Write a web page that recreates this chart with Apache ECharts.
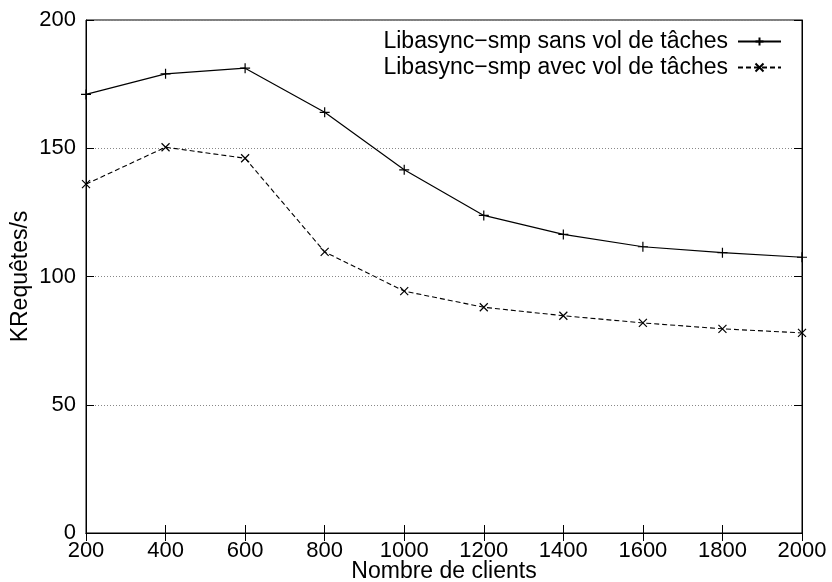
<!DOCTYPE html>
<html><head><meta charset="utf-8">
<script src="https://cdn.jsdelivr.net/npm/echarts@6/dist/echarts.min.js"></script>
<style>html,body{margin:0;padding:0;background:#fff}#c{width:832px;height:582px}</style>
</head><body><div id="c"></div>
<script>
const clients = [200, 400, 600, 800, 1000, 1200, 1400, 1600, 1800, 2000];
const sansVol = [171, 179, 181.2, 164, 141.6, 123.8, 116.4, 111.6, 109.3, 107.5];
const avecVol = [136, 150.4, 146.1, 109.6, 94.3, 88.0, 84.7, 81.9, 79.6, 78.0];
const seriesNames = ['Libasync\u2212smp sans vol de tâches', 'Libasync\u2212smp avec vol de tâches'];
const xTitle = 'Nombre de clients';
const yTitle = 'KRequêtes/s';

const font = 'Liberation Sans, Arial, Helvetica, sans-serif';
const chart = echarts.init(document.getElementById('c'));
const plus = 'path://M0,-5L0,5M-5,0L5,0';
const cross = 'path://M-5,-5L5,5M-5,5L5,-5';
const tickStyle = {show: true, inside: true, length: 8, lineStyle: {color: '#000', width: 1}};
chart.setOption({
  animation: false,
  backgroundColor: '#fff',
  grid: {left: 86, right: 30, top: 20, bottom: 49, show: true, borderColor: '#000', borderWidth: 1,
         containLabel: false, outerBoundsMode: 'none'},
  legend: {
    orient: 'vertical', right: 45, top: 25, align: 'right', itemGap: 3,
    itemWidth: 43, itemHeight: 10,
    textStyle: {fontFamily: font, fontSize: 23, color: '#000', padding: [0, 5, 0, 0]},
    data: seriesNames
  },
  xAxis: [{
    type: 'value', min: 200, max: 2000, interval: 200,
    name: xTitle, nameLocation: 'middle', nameGap: 27, nameMoveOverlap: false,
    nameTextStyle: {fontFamily: font, fontSize: 23, color: '#000'},
    axisLine: {show: true, lineStyle: {color: '#000'}},
    axisTick: tickStyle,
    axisLabel: {fontFamily: font, fontSize: 22, color: '#000', margin: 7, formatter: v => String(v)},
    splitLine: {show: false}
  }, {
    type: 'value', min: 200, max: 2000, interval: 200, position: 'top',
    axisLine: {show: true, lineStyle: {color: '#000'}},
    axisTick: tickStyle, axisLabel: {show: false}, splitLine: {show: false}
  }],
  yAxis: [{
    type: 'value', min: 0, max: 200, interval: 50,
    name: yTitle, nameLocation: 'middle', nameGap: 54, nameMoveOverlap: false,
    nameTextStyle: {fontFamily: font, fontSize: 23, color: '#000'},
    axisLine: {show: true, lineStyle: {color: '#000'}},
    axisTick: tickStyle,
    axisLabel: {fontFamily: font, fontSize: 22, color: '#000', margin: 10},
    splitLine: {show: true, lineStyle: {color: '#888', type: [1, 2], width: 1}}
  }, {
    type: 'value', min: 0, max: 200, interval: 50, position: 'right',
    axisLine: {show: true, lineStyle: {color: '#000'}},
    axisTick: tickStyle, axisLabel: {show: false}, splitLine: {show: false}
  }],
  series: [{
    name: seriesNames[0], type: 'line',
    data: clients.map((c, i) => [c, sansVol[i]]),
    symbol: plus, symbolSize: 10, showAllSymbol: true,
    lineStyle: {color: '#000', width: 1.2},
    itemStyle: {color: 'none', borderColor: '#000', borderWidth: 1.2}
  }, {
    name: seriesNames[1], type: 'line',
    data: clients.map((c, i) => [c, avecVol[i]]),
    symbol: cross, symbolSize: 8, showAllSymbol: true,
    lineStyle: {color: '#000', width: 1.1, type: [5, 3]},
    itemStyle: {color: 'none', borderColor: '#000', borderWidth: 1.2}
  }]
});
</script></body></html>
